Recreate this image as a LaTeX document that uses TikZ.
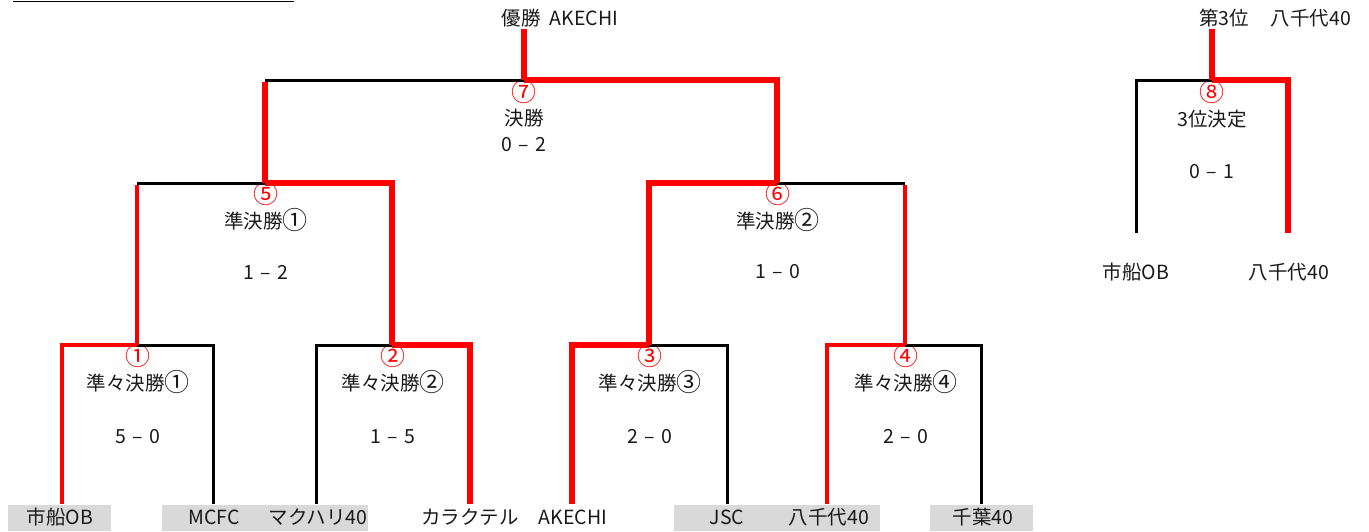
\documentclass[tikz,border=0pt]{standalone}
\usepackage{fontspec}
\setmainfont{Noto Sans CJK JP}
\definecolor{cellgray}{HTML}{D9D9D9}
\newcommand\cnum[1]{{\fontsize{25}{22}\selectfont\raisebox{-1pt}{#1}}}
\newcommand\dsh{\hspace{6pt}–\hspace{6pt}}
\begin{document}
\begin{tikzpicture}[x=1pt,y=-1pt,
  blk/.style={line width=3pt, black, line join=miter},
  redM/.style={line width=4pt, red, line join=miter},
  redT/.style={line width=5.5pt, red, line join=miter},
  txt/.style={font=\fontsize{19.5}{22}\selectfont, inner sep=0pt, text=black!90},
  num/.style={font=\fontsize{25}{22}\selectfont, inner sep=0pt, text=red},
  cell/.style={fill=cellgray, draw=none}
]
\useasboundingbox (0,0) rectangle (1369,531);
% stray underline at top left
\coordinate (ulA) at (13,1.5);
\coordinate (ulB) at (294,1.5);
\draw[line width=1.6pt] (ulA) -- (ulB);

% gray cells behind team names
\fill[cell] (8,505) rectangle (111,531);
\fill[cell] (162,505) rectangle (368,531);
\fill[cell] (674,505) rectangle (880,531);
\fill[cell] (930,505) rectangle (1033,531);

% match apexes
\coordinate (Q1) at (137,345);
\coordinate (Q2) at (392,345);
\coordinate (Q3) at (649,345);
\coordinate (Q4) at (905,345);
\coordinate (S1) at (265,183);
\coordinate (S2) at (777,183);
\coordinate (F)  at (524,80);
\coordinate (T)  at (1212,80);
\coordinate (Ftop) at (524,29);
\coordinate (Ttop) at (1212,29);
% leg bottoms
\coordinate (a1) at (62,504);
\coordinate (a2) at (213,504);
\coordinate (a3) at (316,504);
\coordinate (a4) at (470,504);
\coordinate (a5) at (572,504);
\coordinate (a6) at (727,504);
\coordinate (a7) at (827,504);
\coordinate (a8) at (981,504);
\coordinate (b1) at (1136,233);
\coordinate (b2) at (1288,233);

% team names
\node[txt] (t1) at (60,517) {市船OB};
\node[txt] (t2) at (214,517) {MCFC};
\node[txt] (t3) at (318,517) {マクハリ40};
\node[txt] (t4) at (470,517) {カラクテル};
\node[txt] (t5) at (573,517) {AKECHI};
\node[txt] (t6) at (727,517) {JSC};
\node[txt] (t7) at (829,517) {八千代40};
\node[txt] (t8) at (983,517) {千葉40};
\node[txt] (t9) at (1136,272) {市船OB};
\node[txt] (t10) at (1289,272) {八千代40};
\node[txt] (champ) at (560,18) {優勝\hspace{9pt}AKECHI};
\node[txt] (third) at (1275,18) {第3位\hspace{22pt}八千代40};

% match labels
\node[num] (n1) at (138,356) {①};
\node[txt] (m1) at (138,382) {準々決勝\cnum{①}};
\node[txt] (s1) at (138,437) {5\dsh 0};
\node[num] (n2) at (393,356) {②};
\node[txt] (m2) at (393,382) {準々決勝\cnum{②}};
\node[txt] (s2) at (393,437) {1\dsh 5};
\node[num] (n3) at (650,356) {③};
\node[txt] (m3) at (650,382) {準々決勝\cnum{③}};
\node[txt] (s3) at (650,437) {2\dsh 0};
\node[num] (n4) at (906,356) {④};
\node[txt] (m4) at (906,382) {準々決勝\cnum{④}};
\node[txt] (s4) at (906,437) {2\dsh 0};
\node[num] (n5) at (266,194) {⑤};
\node[txt] (m5) at (266,220) {準決勝\cnum{①}};
\node[txt] (s5) at (266,272) {1\dsh 2};
\node[num] (n6) at (778,194) {⑥};
\node[txt] (m6) at (778,220) {準決勝\cnum{②}};
\node[txt] (s6) at (778,272) {1\dsh 0};
\node[num] (n7) at (524,92) {⑦};
\node[txt] (m7) at (524,118) {決勝};
\node[txt] (s7) at (524,145) {0\dsh 2};
\node[num] (n8) at (1212,92) {⑧};
\node[txt] (m8) at (1212,119) {3位決定};
\node[txt] (s8) at (1212,172) {0\dsh 1};

% black (losing) lines
\draw[blk] (a2) |- (Q1);
\draw[blk] (a3) |- (Q2);
\draw[blk] (a6) |- (Q3);
\draw[blk] (a8) |- (Q4);
\draw[blk] (Q1 |- S1) -- (S1);
\draw[blk] (Q4 |- S2) -- (S2);
\draw[blk] (S1 |- F) -- (F);
\draw[blk] (b1) |- (T);

% red (winning) lines
\draw[redM] (a1) |- (Q1);
\draw[redT] (a4) |- (Q2);
\draw[redT] (a5) |- (Q3);
\draw[redM] (a7) |- (Q4);
\draw[redM] (Q1) -- ([yshift=-1.5pt]Q1 |- S1);
\draw[redT] (Q2) |- (S1);
\draw[redT] (Q3) |- (S2);
\draw[redM] (Q4) -- ([yshift=-1.5pt]Q4 |- S2);
\draw[redT] (S1) -- ([yshift=-1.5pt]S1 |- F);
\draw[redT] (S2) |- (F);
\draw[redT] (F) -- (Ftop);
\draw[redT] (b2) |- (T);
\draw[redT] (T) -- (Ttop);
\end{tikzpicture}
\end{document}
